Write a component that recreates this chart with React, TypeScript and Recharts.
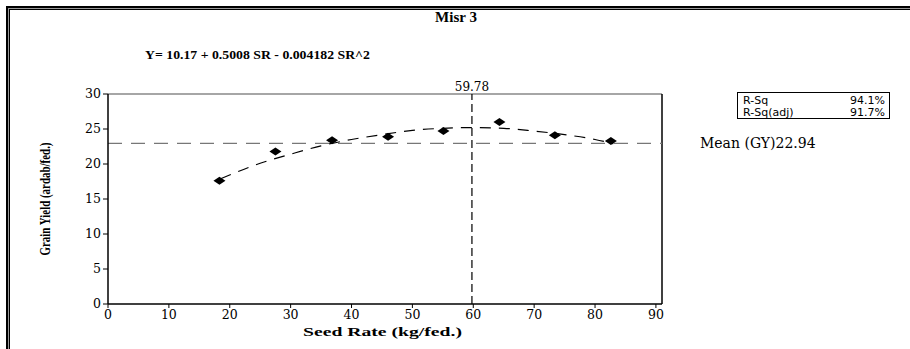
import React from 'react';
import {
  ComposedChart,
  Line,
  Scatter,
  XAxis,
  YAxis,
  ReferenceLine,
  Label,
} from 'recharts';

// observed seed rate (kg/fed.) vs grain yield (ardab/fed.)
const seedRate = [18.3, 27.5, 36.8, 46.0, 55.1, 64.3, 73.4, 82.6];
const grainYield = [17.6, 21.8, 23.4, 23.9, 24.7, 26.0, 24.1, 23.3];

// fitted quadratic curve
const curveX = [18.5, 25, 30, 35, 40, 45, 50, 55, 60, 65, 70, 75, 80, 83];
const curveY = [17.9, 20.1, 21.4, 22.6, 23.5, 24.2, 24.8, 25.1, 25.2, 25.1, 24.7, 24.2, 23.5, 22.9];

const xTicks = [0, 10, 20, 30, 40, 50, 60, 70, 80, 90];
const yTicks = [0, 5, 10, 15, 20, 25, 30];

const optimumRate = 59.78;
const meanYield = 22.94;
const rSq = ['94.1%', '91.7%'];

const points = seedRate.map((x, i) => ({ x, y: grainYield[i] }));
const curve = curveX.map((x, i) => ({ x, fit: curveY[i] }));

const serif = "'Liberation Serif', 'Times New Roman', serif";
const wideSerif = "'DejaVu Serif', serif";
const sans = "'DejaVu Sans', Verdana, sans-serif";

const Diamond = (props: any) => {
  const { cx, cy } = props;
  if (cx == null || cy == null) return null;
  return (
    <polygon
      points={`${cx - 6},${cy} ${cx},${cy - 4} ${cx + 6},${cy} ${cx},${cy + 4}`}
      fill="#000"
    />
  );
};

export default function App() {
  return (
    <div style={{ position: 'relative', width: 910, height: 349, background: '#fff', overflow: 'hidden' }}>
      <style>{`body{margin:0} .recharts-surface text{font-family:${wideSerif} !important;}`}</style>
      {/* double frame */}
      <div style={{ position: 'absolute', left: 6, top: 6, width: 1000, height: 1000, borderLeft: '2px solid #000', borderTop: '2px solid #000' }} />
      <div style={{ position: 'absolute', left: 8, top: 8, width: 1000, height: 1000, borderLeft: '1px solid #999', borderTop: '1px solid #999' }} />
      <div style={{ position: 'absolute', left: 9, top: 9, width: 1000, height: 1000, borderLeft: '1px solid #000', borderTop: '1px solid #000' }} />

      <ComposedChart
        width={910}
        height={349}
        margin={{ top: 94, right: 248, bottom: 15, left: 48 }}
        style={{ position: 'absolute', left: 0, top: 0 }}
      >
        <XAxis
          type="number"
          dataKey="x"
          domain={[0, 91]}
          ticks={xTicks}
          height={30}
          tickSize={4}
          axisLine={{ stroke: '#000', strokeWidth: 1.5 }}
          tickLine={{ stroke: '#000' }}
          tick={{ fill: '#000', fontSize: 12.5 }}
          allowDataOverflow
        />
        <YAxis
          type="number"
          domain={[0, 30]}
          ticks={yTicks}
          width={60}
          tickSize={5}
          axisLine={{ stroke: '#000', strokeWidth: 1.5 }}
          tickLine={{ stroke: '#000' }}
          tick={{ fill: '#000', fontSize: 12.5 }}
        />
        <ReferenceLine y={30} stroke="#888" strokeWidth={1.5} />
        <ReferenceLine x={91} stroke="#000" strokeWidth={1.5} />
        <ReferenceLine y={meanYield} stroke="#777" strokeWidth={1.2} strokeDasharray="14 9">
          <Label value={`Mean (GY)${meanYield}`} position="right" offset={38} fill="#000" fontSize={14} />
        </ReferenceLine>
        <ReferenceLine x={optimumRate} stroke="#000" strokeWidth={1.2} strokeDasharray="8 4">
          <Label value={optimumRate} position="top" offset={3} fill="#000" fontSize={12} />
        </ReferenceLine>
        <Line
          data={curve}
          dataKey="fit"
          type="monotone"
          stroke="#000"
          strokeWidth={1.2}
          strokeDasharray="11 8"
          dot={false}
          isAnimationActive={false}
        />
        <Scatter data={points} dataKey="y" shape={<Diamond />} isAnimationActive={false} />
      </ComposedChart>

      <svg width={910} height={349} style={{ position: 'absolute', left: 0, top: 0, pointerEvents: 'none' }}>
        <text x={456} y={22} textAnchor="middle" fontFamily={serif} fontWeight="bold" fontSize={15}>
          Misr 3
        </text>
        <text x={145} y={59} fontFamily={serif} fontWeight="bold" fontSize={13.5} textLength={225} lengthAdjust="spacingAndGlyphs">
          Y=  10.17 + 0.5008 SR - 0.004182 SR^2
        </text>
        <text
          x={0}
          y={0}
          transform="translate(50,199) rotate(-90)"
          textAnchor="middle"
          fontFamily={serif}
          fontWeight="bold"
          fontSize={14}
          textLength={113}
          lengthAdjust="spacingAndGlyphs"
        >
          Grain Yield (ardab/fed.)
        </text>
        <text x={303} y={336} fontFamily={serif} fontWeight="bold" fontSize={13} textLength={159} lengthAdjust="spacingAndGlyphs">
          Seed Rate (kg/fed.)
        </text>
        <rect x={737.5} y={92.5} width={152} height={26} fill="#fff" stroke="#000" strokeWidth={1} />
        <text x={743} y={104} fontFamily={sans} fontSize={11}>R-Sq</text>
        <text x={885} y={104} textAnchor="end" fontFamily={sans} fontSize={11}>{rSq[0]}</text>
        <text x={743} y={115.5} fontFamily={sans} fontSize={11}>R-Sq(adj)</text>
        <text x={885} y={115.5} textAnchor="end" fontFamily={sans} fontSize={11}>{rSq[1]}</text>
      </svg>
    </div>
  );
}
